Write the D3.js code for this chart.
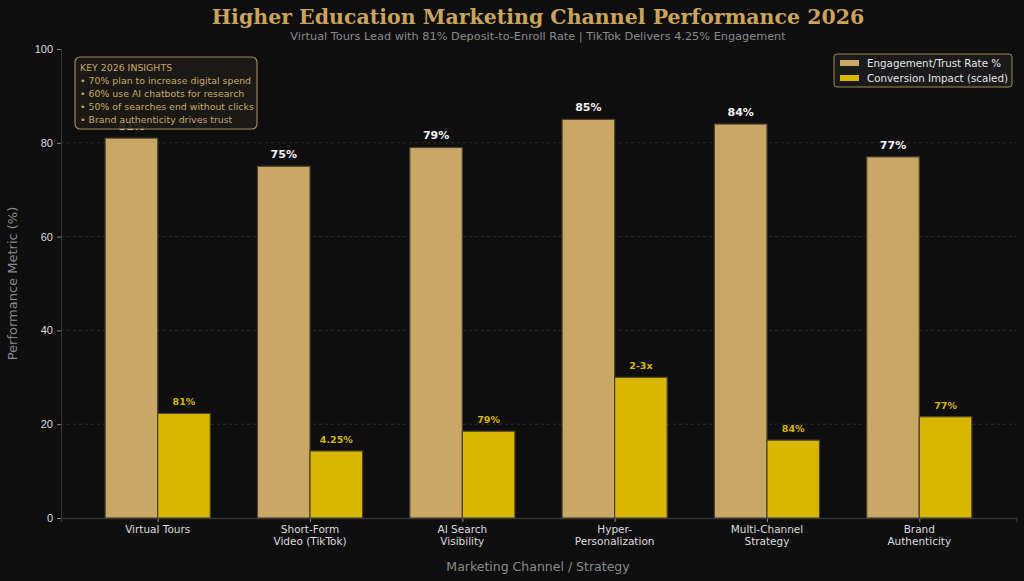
<!DOCTYPE html>
<html>
<head>
<meta charset="utf-8">
<script src="https://cdn.jsdelivr.net/npm/d3@7"></script>
<style>
  html, body { margin: 0; padding: 0; background: #0e0e0e; }
  svg { display: block; font-family: 'DejaVu Sans', sans-serif; }
</style>
</head>
<body>
<div id="chart"></div>
<script>
// Chart data
const channels = [
  ['Virtual Tours'],
  ['Short-Form', 'Video (TikTok)'],
  ['AI Search', 'Visibility'],
  ['Hyper-', 'Personalization'],
  ['Multi-Channel', 'Strategy'],
  ['Brand', 'Authenticity']
]
const engagement = [81, 75, 79, 85, 84, 77]
const conversion = [22.3, 14.3, 18.5, 30, 16.6, 21.6]
const conversionLabels = ['81%', '4.25%', '79%', '2-3x', '84%', '77%']
const yTicks = [0, 20, 40, 60, 80, 100]
const insights = [
  'KEY 2026 INSIGHTS',
  '• 70% plan to increase digital spend',
  '• 60% use AI chatbots for research',
  '• 50% of searches end without clicks',
  '• Brand authenticity drives trust'
]
const seriesNames = ['Engagement/Trust Rate %', 'Conversion Impact (scaled)']

const W = 1024, H = 581
const margin = { left: 61, right: 8, top: 49, bottom: 63 }
const tan = '#c9a866', gold = '#d9b700'

const svg = d3.select('#chart').append('svg')
  .attr('width', W).attr('height', H)
  .style('background', '#0e0e0e')

const x = d3.scaleLinear().domain([-0.635, 5.635]).range([margin.left, W - margin.right])
const y = d3.scaleLinear().domain([0, 100]).range([H - margin.bottom, margin.top])
const bw = x(0.345) - x(0)

// Grid lines
svg.append('g').selectAll('line')
  .data(yTicks.filter(t => t > 0 && t < 100))
  .join('line')
  .attr('x1', x.range()[0]).attr('x2', x.range()[1])
  .attr('y1', d => y(d)).attr('y2', d => y(d))
  .attr('stroke', '#3a3526').attr('stroke-width', 0.8)
  .attr('stroke-dasharray', '3,3')

// Axes
const yAxis = svg.append('g')
  .attr('transform', `translate(${margin.left},0)`)
  .call(d3.axisLeft(y).tickValues(yTicks).tickSize(4).tickPadding(4))
yAxis.select('.domain').attr('stroke', '#333')
yAxis.selectAll('.tick line').attr('stroke', '#888')
yAxis.selectAll('.tick text').attr('fill', '#ddd').attr('font-size', 11)

const xAxis = svg.append('g')
  .attr('transform', `translate(0,${y(0)})`)
  .call(d3.axisBottom(x).tickValues(d3.range(channels.length)).tickSize(4).tickFormat(''))
xAxis.select('.domain').attr('stroke', '#333').attr('stroke-width', 1.5)
xAxis.selectAll('.tick line').attr('stroke', '#888')

const tickText = svg.append('g').selectAll('text')
  .data(channels)
  .join('text')
  .attr('text-anchor', 'middle')
  .attr('fill', '#ddd')
  .attr('font-size', 10.5)
tickText.selectAll('tspan')
  .data((d, i) => d.map(line => ({ line, i })))
  .join('tspan')
  .attr('x', d => x(d.i))
  .attr('y', (d, j) => y(0) + 15 + j * 12)
  .text(d => d.line)

// Bars
svg.append('g').selectAll('rect')
  .data(engagement)
  .join('rect')
  .attr('x', (d, i) => x(i) - bw)
  .attr('y', d => y(d))
  .attr('width', bw)
  .attr('height', d => y(0) - y(d))
  .attr('fill', tan)
  .attr('stroke', '#4a4232').attr('stroke-width', 1.2)

svg.append('g').selectAll('rect')
  .data(conversion)
  .join('rect')
  .attr('x', (d, i) => x(i))
  .attr('y', d => y(d))
  .attr('width', bw)
  .attr('height', d => y(0) - y(d))
  .attr('fill', gold)
  .attr('stroke', '#4a4232').attr('stroke-width', 1.2)

// Value labels
svg.append('g').selectAll('text')
  .data(engagement)
  .join('text')
  .attr('x', (d, i) => x(i) - bw / 2)
  .attr('y', d => y(d) - 8)
  .attr('text-anchor', 'middle')
  .attr('fill', '#f2f2f2')
  .attr('font-size', 11).attr('font-weight', 'bold')
  .text(d => d + '%')

svg.append('g').selectAll('text')
  .data(conversion)
  .join('text')
  .attr('x', (d, i) => x(i) + bw / 2)
  .attr('y', d => y(d) - 8)
  .attr('text-anchor', 'middle')
  .attr('fill', gold)
  .attr('font-size', 9.5).attr('font-weight', 'bold')
  .text((d, i) => conversionLabels[i])

// Titles
svg.append('text')
  .attr('x', 538).attr('y', 24)
  .attr('text-anchor', 'middle')
  .attr('fill', '#c9a45c')
  .attr('font-family', "'DejaVu Serif', serif")
  .attr('font-weight', 'bold').attr('font-size', 20.5)
  .text('Higher Education Marketing Channel Performance 2026')

svg.append('text')
  .attr('x', 538).attr('y', 40)
  .attr('text-anchor', 'middle')
  .attr('fill', '#8a8a8a').attr('font-size', 11.3)
  .text('Virtual Tours Lead with 81% Deposit-to-Enroll Rate | TikTok Delivers 4.25% Engagement')

svg.append('text')
  .attr('x', 538).attr('y', 571)
  .attr('text-anchor', 'middle')
  .attr('fill', '#8a8a8a').attr('font-size', 12.5)
  .text('Marketing Channel / Strategy')

svg.append('text')
  .attr('transform', `translate(17,${(y(0) + y(100)) / 2}) rotate(-90)`)
  .attr('text-anchor', 'middle')
  .attr('fill', '#8a8a8a').attr('font-size', 13)
  .text('Performance Metric (%)')

// Insights box (sits over the first bar label, as in the original)
const box = svg.append('g')
box.append('rect')
  .attr('x', 75).attr('y', 57).attr('width', 182).attr('height', 72)
  .attr('rx', 5)
  .attr('fill', '#1c1a16').attr('fill-opacity', 0.92)
  .attr('stroke', '#a08850').attr('stroke-width', 1.2)
box.selectAll('text')
  .data(insights)
  .join('text')
  .attr('x', 80)
  .attr('y', (d, i) => 71 + i * 13)
  .attr('fill', '#c9a866')
  .attr('font-size', 9.4)
  .text(d => d)

// Legend
const legend = svg.append('g')
legend.append('rect')
  .attr('x', 834).attr('y', 54).attr('width', 178).attr('height', 33)
  .attr('rx', 3)
  .attr('fill', '#1a1a1a')
  .attr('stroke', '#a08850').attr('stroke-width', 1)
const items = legend.selectAll('g.item')
  .data(seriesNames)
  .join('g')
  .attr('class', 'item')
  .attr('transform', (d, i) => `translate(840,${63 + i * 15})`)
items.append('rect')
  .attr('x', 0).attr('y', -3).attr('width', 19).attr('height', 6)
  .attr('fill', (d, i) => i === 0 ? tan : gold)
items.append('text')
  .attr('x', 27).attr('y', 4)
  .attr('fill', '#e6e6e6').attr('font-size', 10.3)
  .text(d => d)
</script>
</body>
</html>
